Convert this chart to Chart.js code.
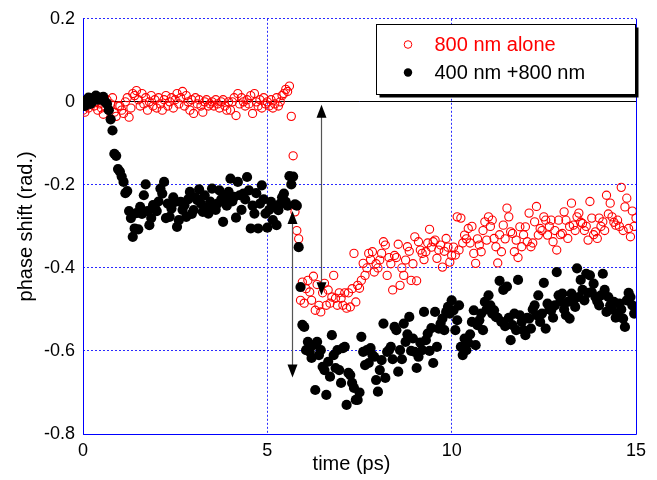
<!DOCTYPE html>
<html>
<head>
<meta charset="utf-8">
<title>Phase shift</title>
<script src="https://cdn.jsdelivr.net/npm/chart.js@4.4.0/dist/chart.umd.min.js"></script>
<style>
  body { margin: 0; background: #fff; }
  #wrap { width: 657px; height: 480px; }
</style>
</head>
<body>
<div id="wrap"><canvas id="phaseChart" width="657" height="480"></canvas></div>
<script>
// delay time (ps)
const time = [
  0,0.05,0.1,0.15,0.2,0.25,0.3,0.35,0.4,0.45,
  0.5,0.55,0.6,0.65,0.7,0.75,0.8,0.85,0.9,0.95,
  1,1.05,1.1,1.15,1.2,1.25,1.3,1.35,1.4,1.45,
  1.5,1.55,1.6,1.65,1.7,1.75,1.8,1.85,1.9,1.95,
  2,2.05,2.1,2.15,2.2,2.25,2.3,2.35,2.4,2.45,
  2.5,2.55,2.6,2.65,2.7,2.75,2.8,2.85,2.9,2.95,
  3,3.05,3.1,3.15,3.2,3.25,3.3,3.35,3.4,3.45,
  3.5,3.55,3.6,3.65,3.7,3.75,3.8,3.85,3.9,3.95,
  4,4.05,4.1,4.15,4.2,4.25,4.3,4.35,4.4,4.45,
  4.5,4.55,4.6,4.65,4.7,4.75,4.8,4.85,4.9,4.95,
  5,5.05,5.1,5.15,5.2,5.25,5.3,5.35,5.4,5.45,
  5.5,5.55,5.6,5.65,5.7,5.75,5.8,5.85,5.9,5.95,
  6,6.05,6.1,6.15,6.2,6.25,6.3,6.35,6.4,6.45,
  6.5,6.55,6.6,6.65,6.7,6.75,6.8,6.85,6.9,6.95,
  7,7.05,7.1,7.15,7.2,7.25,7.3,7.35,7.4,7.45,
  7.5,7.55,7.6,7.65,7.7,7.75,7.8,7.85,7.9,7.95,
  8,8.05,8.1,8.15,8.2,8.25,8.3,8.35,8.4,8.45,
  8.5,8.55,8.6,8.65,8.7,8.75,8.8,8.85,8.9,8.95,
  9,9.05,9.1,9.15,9.2,9.25,9.3,9.35,9.4,9.45,
  9.5,9.55,9.6,9.65,9.7,9.75,9.8,9.85,9.9,9.95,
  10,10.05,10.1,10.15,10.2,10.25,10.3,10.35,10.4,10.45,
  10.5,10.55,10.6,10.65,10.7,10.75,10.8,10.85,10.9,10.95,
  11,11.05,11.1,11.15,11.2,11.25,11.3,11.35,11.4,11.45,
  11.5,11.55,11.6,11.65,11.7,11.75,11.8,11.85,11.9,11.95,
  12,12.05,12.1,12.15,12.2,12.25,12.3,12.35,12.4,12.45,
  12.5,12.55,12.6,12.65,12.7,12.75,12.8,12.85,12.9,12.95,
  13,13.05,13.1,13.15,13.2,13.25,13.3,13.35,13.4,13.45,
  13.5,13.55,13.6,13.65,13.7,13.75,13.8,13.85,13.9,13.95,
  14,14.05,14.1,14.15,14.2,14.25,14.3,14.35,14.4,14.45,
  14.5,14.55,14.6,14.65,14.7,14.75,14.8,14.85,14.9,14.95,15
];

// 800 nm alone (open red circles)
const alone = [
  -0.02,-0.025,-0.01,-0.015,-0.005,0.005,-0.01,0,-0.02,-0.005,
  -0.015,-0.03,-0.01,0.005,-0.02,-0.005,0.01,-0.025,-0.035,-0.01,
  -0.01,-0.02,-0.028,0,0.01,-0.037,-0.015,0.02,0.015,0.027,
  0.005,-0.01,0.02,-0.005,0.01,-0.02,0,0.015,-0.01,0.005,
  -0.015,0.01,-0.005,-0.02,0.005,0.015,-0.01,0,0.01,-0.015,
  0.005,0.02,-0.005,0.01,0.025,-0.01,0.015,0,-0.02,0.005,
  -0.028,0.01,-0.005,0.005,-0.01,-0.025,0,0.005,-0.01,-0.005,
  0,-0.01,0.005,-0.005,-0.015,0,0.005,-0.01,-0.02,0,
  -0.02,0,0.01,-0.033,0.02,-0.005,0.01,0,-0.01,0.005,
  -0.005,0.015,-0.028,0.02,0,-0.01,0.005,-0.015,0.01,-0.005,
  0,-0.01,0.005,-0.015,-0.005,0.01,-0.01,0,0.015,0.02,
  0.03,0.025,0.038,-0.035,-0.13,-0.265,-0.31,-0.33,-0.478,-0.434,
  -0.485,-0.45,-0.43,-0.458,-0.478,-0.42,-0.502,-0.44,-0.49,-0.506,
  -0.46,-0.437,-0.49,-0.453,-0.485,-0.47,-0.418,-0.473,-0.49,-0.46,
  -0.473,-0.49,-0.46,-0.497,-0.46,-0.494,-0.45,-0.365,-0.482,-0.442,
  -0.449,-0.43,-0.389,-0.418,-0.4,-0.365,-0.38,-0.361,-0.41,-0.39,
  -0.4,-0.381,-0.365,-0.337,-0.345,-0.418,-0.375,-0.39,-0.453,-0.37,
  -0.375,-0.343,-0.442,-0.4,-0.418,-0.381,-0.349,-0.36,-0.43,-0.39,
  -0.325,-0.431,-0.337,-0.357,-0.365,-0.38,-0.361,-0.34,-0.307,-0.35,
  -0.337,-0.333,-0.377,-0.357,-0.345,-0.398,-0.36,-0.329,-0.35,-0.386,
  -0.37,-0.35,-0.369,-0.277,-0.357,-0.28,-0.34,-0.321,-0.33,-0.305,
  -0.34,-0.3,-0.365,-0.389,-0.33,-0.345,-0.361,-0.31,-0.289,-0.333,
  -0.277,-0.3,-0.285,-0.329,-0.349,-0.388,-0.32,-0.361,-0.297,-0.33,
  -0.256,-0.277,-0.313,-0.317,-0.361,-0.333,-0.375,-0.301,-0.349,-0.32,
  -0.301,-0.337,-0.268,-0.349,-0.34,-0.289,-0.252,-0.321,-0.305,-0.31,
  -0.277,-0.285,-0.321,-0.3,-0.285,-0.337,-0.31,-0.357,-0.285,-0.32,
  -0.317,-0.265,-0.285,-0.329,-0.3,-0.244,-0.297,-0.31,-0.277,-0.268,
  -0.29,-0.293,-0.31,-0.3,-0.333,-0.24,-0.28,-0.32,-0.313,-0.329,
  -0.28,-0.3,-0.289,-0.31,-0.225,-0.27,-0.244,-0.277,-0.29,-0.297,
  -0.285,-0.3,-0.206,-0.31,-0.253,-0.232,-0.305,-0.325,-0.263,-0.3,-0.28
];

// 400 nm + 800 nm (filled black dots)
const combined = [
  0,-0.01,0.005,0.01,-0.005,0,0.01,0.015,0.005,0.01,
  0.005,0.012,0,-0.005,-0.02,-0.042,-0.069,-0.125,-0.13,-0.162,
  -0.168,-0.18,-0.193,-0.22,-0.215,-0.263,-0.28,-0.325,-0.305,-0.268,
  -0.307,-0.253,-0.27,-0.225,-0.199,-0.263,-0.297,-0.28,-0.249,-0.255,
  -0.263,-0.24,-0.209,-0.221,-0.193,-0.28,-0.245,-0.277,-0.257,-0.23,
  -0.241,-0.301,-0.285,-0.241,-0.26,-0.249,-0.277,-0.235,-0.217,-0.27,
  -0.261,-0.23,-0.237,-0.211,-0.245,-0.265,-0.225,-0.255,-0.269,-0.24,
  -0.209,-0.253,-0.26,-0.245,-0.213,-0.235,-0.289,-0.229,-0.25,-0.217,
  -0.185,-0.24,-0.229,-0.279,-0.193,-0.225,-0.26,-0.221,-0.235,-0.181,
  -0.213,-0.305,-0.25,-0.269,-0.22,-0.305,-0.245,-0.201,-0.235,-0.269,
  -0.303,-0.26,-0.241,-0.285,-0.253,-0.297,-0.261,-0.245,-0.23,-0.221,
  -0.241,-0.25,-0.179,-0.199,-0.18,-0.247,-0.25,-0.35,-0.446,-0.537,
  -0.542,-0.598,-0.578,-0.602,-0.617,-0.586,-0.694,-0.578,-0.61,-0.598,
  -0.638,-0.646,-0.706,-0.626,-0.662,-0.562,-0.61,-0.641,-0.598,-0.646,
  -0.677,-0.593,-0.59,-0.73,-0.653,-0.658,-0.677,-0.689,-0.718,-0.718,
  -0.7,-0.566,-0.602,-0.634,-0.598,-0.629,-0.593,-0.61,-0.614,-0.67,
  -0.698,-0.646,-0.622,-0.534,-0.665,-0.602,-0.598,-0.59,-0.62,-0.542,
  -0.55,-0.65,-0.598,-0.62,-0.534,-0.578,-0.56,-0.518,-0.6,-0.57,
  -0.602,-0.641,-0.614,-0.58,-0.598,-0.506,-0.574,-0.558,-0.6,-0.545,
  -0.629,-0.506,-0.59,-0.546,-0.534,-0.522,-0.55,-0.506,-0.494,-0.51,
  -0.478,-0.502,-0.55,-0.526,-0.49,-0.59,-0.61,-0.57,-0.598,-0.58,
  -0.56,-0.53,-0.502,-0.586,-0.538,-0.526,-0.51,-0.55,-0.482,-0.5,
  -0.466,-0.49,-0.51,-0.502,-0.518,-0.52,-0.431,-0.53,-0.453,-0.54,
  -0.445,-0.52,-0.574,-0.538,-0.51,-0.55,-0.429,-0.514,-0.53,-0.55,
  -0.562,-0.52,-0.522,-0.546,-0.5,-0.49,-0.514,-0.466,-0.53,-0.51,
  -0.436,-0.546,-0.486,-0.5,-0.502,-0.52,-0.49,-0.41,-0.466,-0.48,
  -0.462,-0.5,-0.514,-0.482,-0.522,-0.462,-0.48,-0.494,-0.401,-0.47,
  -0.429,-0.453,-0.478,-0.414,-0.46,-0.418,-0.458,-0.438,-0.47,-0.48,
  -0.49,-0.466,-0.414,-0.453,-0.506,-0.47,-0.49,-0.5,-0.482,-0.52,
  -0.514,-0.486,-0.5,-0.522,-0.542,-0.478,-0.46,-0.47,-0.49,-0.51,-0.498
];

const seriesLabels = ['800 nm alone', '400 nm +800 nm'];
const xTicks = [0, 5, 10, 15];
const yTicks = [0.2, 0, -0.2, -0.4, -0.6, -0.8];

// double-headed arrows marking the two phase jumps (time, top, bottom)
const arrowTime = [6.45, 5.67];
const arrowTop = [-0.007, -0.263];
const arrowBottom = [-0.466, -0.664];

const FONT = "'Liberation Sans', Arial, Helvetica, sans-serif";
Chart.defaults.font.family = FONT;
Chart.defaults.color = '#000';

function toPoints(ys) {
    return ys.map((y, i) => ({ x: time[i], y: y }));
}

function arrowHead(ctx, x, tipY, dir) {
    // dir = -1 points up, +1 points down
    ctx.beginPath();
    ctx.moveTo(x, tipY);
    ctx.lineTo(x - 5, tipY - dir * 13);
    ctx.lineTo(x + 5, tipY - dir * 13);
    ctx.closePath();
    ctx.fill();
}

const decorations = {
    id: 'decorations',
    beforeDatasetsDraw(chart) {
        const { ctx, chartArea: a, scales } = chart;
        const y0 = Math.round(scales.y.getPixelForValue(0)) - 0.5;
        ctx.save();
        // zero line
        ctx.strokeStyle = '#000';
        ctx.lineWidth = 1;
        ctx.beginPath();
        ctx.moveTo(a.left, y0);
        ctx.lineTo(a.right, y0);
        ctx.stroke();
        // frame: left, bottom, right
        ctx.strokeStyle = '#0000ff';
        ctx.beginPath();
        ctx.moveTo(Math.round(a.left) + 0.5, a.top);
        ctx.lineTo(Math.round(a.left) + 0.5, Math.round(a.bottom) + 0.5);
        ctx.lineTo(Math.round(a.right) + 0.5, Math.round(a.bottom) + 0.5);
        ctx.lineTo(Math.round(a.right) + 0.5, a.top);
        ctx.stroke();
        ctx.restore();
    },
    afterDatasetsDraw(chart) {
        const { ctx, scales } = chart;
        ctx.save();
        ctx.strokeStyle = '#555';
        ctx.fillStyle = '#000';
        ctx.lineWidth = 1.2;
        arrowTime.forEach((t, i) => {
            const x = Math.round(scales.x.getPixelForValue(t)) + 0.5;
            const top = scales.y.getPixelForValue(arrowTop[i]);
            const bottom = scales.y.getPixelForValue(arrowBottom[i]);
            ctx.beginPath();
            ctx.moveTo(x, top + 10);
            ctx.lineTo(x, bottom - 10);
            ctx.stroke();
            arrowHead(ctx, x, top, -1);
            arrowHead(ctx, x, bottom, 1);
        });
        ctx.restore();
    },
    afterDraw(chart) {
        const { ctx, chartArea: a } = chart;
        ctx.save();

        // legend box with drop shadow
        const bx = Math.round(a.right - 260) + 0.5;
        const by = Math.round(a.top + 5) + 0.5;
        const bw = 259, bh = 70;
        ctx.fillStyle = '#000';
        ctx.fillRect(bx + 3, by + 3, bw, bh);
        ctx.fillStyle = '#fff';
        ctx.fillRect(bx, by, bw, bh);
        ctx.strokeStyle = '#000';
        ctx.lineWidth = 1;
        ctx.strokeRect(bx, by, bw, bh);

        ctx.font = '20px ' + FONT;
        ctx.textBaseline = 'middle';
        ctx.textAlign = 'left';
        const rows = [by + 20, by + 48];
        // open red circle
        ctx.strokeStyle = '#ff0000';
        ctx.beginPath();
        ctx.arc(bx + 31.5, rows[0], 3.8, 0, Math.PI * 2);
        ctx.stroke();
        ctx.fillStyle = '#ff0000';
        ctx.fillText(seriesLabels[0], bx + 58, rows[0] + 1);
        // filled black dot
        ctx.fillStyle = '#000';
        ctx.beginPath();
        ctx.arc(bx + 31.5, rows[1], 4.2, 0, Math.PI * 2);
        ctx.fill();
        ctx.fillText(seriesLabels[1], bx + 58, rows[1] + 1);

        // axis titles
        ctx.font = '20px ' + FONT;
        ctx.textAlign = 'center';
        ctx.fillText('time (ps)', (a.left + a.right) / 2 - 8, 464);
        ctx.translate(26, (a.top + a.bottom) / 2);
        ctx.rotate(-Math.PI / 2);
        ctx.fillText('phase shift (rad.)', 0, 0);
        ctx.restore();
    }
};

const gridDash = [2, 2];

new Chart(document.getElementById('phaseChart'), {
    type: 'scatter',
    data: {
        datasets: [
            {
                label: seriesLabels[0],
                data: toPoints(alone),
                pointStyle: 'circle',
                pointRadius: 4.1,
                pointBorderWidth: 1.1,
                pointBorderColor: '#ff0000',
                pointBackgroundColor: 'rgba(255,255,255,0)',
                order: 1
            },
            {
                label: seriesLabels[1],
                data: toPoints(combined),
                pointStyle: 'circle',
                pointRadius: 5.1,
                pointBorderWidth: 0,
                pointBorderColor: '#000',
                pointBackgroundColor: '#000',
                order: 0
            }
        ]
    },
    options: {
        responsive: false,
        devicePixelRatio: 1,
        animation: false,
        layout: { padding: { top: 18, right: 21, left: 0, bottom: 0 } },
        plugins: {
            legend: { display: false },
            tooltip: { enabled: false }
        },
        scales: {
            x: {
                type: 'linear',
                min: 0,
                max: 15,
                afterBuildTicks: scale => { scale.ticks = xTicks.map(v => ({ value: v })); },
                afterFit: scale => { scale.height = 46; },
                grid: {
                    color: '#2a2aff',
                    lineWidth: 1,
                    drawTicks: false
                },
                border: { display: false, dash: gridDash },
                ticks: {
                    padding: 6,
                    font: { size: 18 },
                    color: '#000'
                }
            },
            y: {
                type: 'linear',
                min: -0.8,
                max: 0.2,
                afterBuildTicks: scale => { scale.ticks = yTicks.map(v => ({ value: v })); },
                afterFit: scale => { scale.width = 83; },
                grid: {
                    color: '#2a2aff',
                    lineWidth: 1,
                    drawTicks: false
                },
                border: { display: false, dash: gridDash },
                ticks: {
                    padding: 8,
                    font: { size: 18 },
                    color: '#000'
                }
            }
        }
    },
    plugins: [decorations]
});
</script>
</body>
</html>
